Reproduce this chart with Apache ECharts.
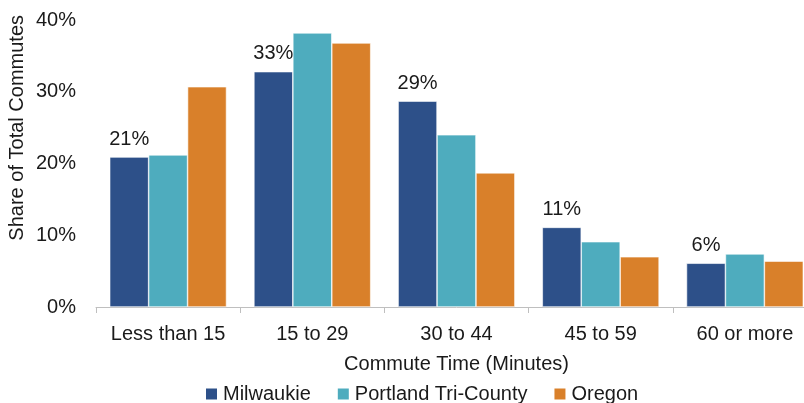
<!DOCTYPE html>
<html>
<head>
<meta charset="utf-8">
<script src="https://cdn.jsdelivr.net/npm/echarts@6/dist/echarts.min.js"></script>
<style>
  html, body { margin: 0; padding: 0; background: #fff; overflow: hidden; }
  /* the plot runs a little past the right edge of the window, like the original */
  #chart { width: 817px; height: 403px; }
</style>
</head>
<body>
<div id="chart"></div>
<script>
// commute time buckets
const categories = ["Less than 15", "15 to 29", "30 to 44", "45 to 59", "60 or more"];
// share of total commutes, percent
const milwaukie = [20.9, 32.8, 28.7, 11.1, 6.1];
const portlandTriCounty = [21.2, 38.2, 24.0, 9.1, 7.4];
const oregon = [30.7, 36.8, 18.7, 7.0, 6.4];
const yTicks = [0, 10, 20, 30, 40];

const font = "Liberation Sans";
const myChart = echarts.init(document.getElementById("chart"));

const option = {
  animation: false,
  textStyle: { fontFamily: font },
  color: ["#2d5089", "#4eacbe", "#d9802a"],
  grid: { left: 96, top: 20, bottom: 96, right: 0 },
  legend: {
    left: 199,
    top: 379,
    itemWidth: 13,
    itemHeight: 13,
    itemGap: 25,
    icon: "rect",
    textStyle: { fontSize: 20, color: "#1a1a1a", fontFamily: font },
    data: ["Milwaukie", "Portland Tri-County", "Oregon"]
  },
  graphic: [{
    type: "text",
    left: 7,
    top: 15,
    rotation: Math.PI / 2,
    style: {
      text: "Share of Total Commutes",
      fontSize: 20,
      fontFamily: font,
      fill: "#1a1a1a"
    }
  }],
  xAxis: {
    type: "category",
    data: categories,
    name: "Commute Time (Minutes)",
    nameLocation: "middle",
    nameGap: 47,
    nameMoveOverlap: false,
    nameTextStyle: { fontSize: 20, color: "#1a1a1a", fontFamily: font },
    axisLine: { lineStyle: { color: "#bfbfbf", width: 1 } },
    axisTick: { show: true, interval: 0, length: 6, lineStyle: { color: "#bfbfbf" } },
    axisLabel: { interval: 0, hideOverlap: false, fontSize: 20, color: "#1a1a1a", margin: 17, fontFamily: font }
  },
  yAxis: {
    type: "value",
    min: yTicks[0],
    max: yTicks[yTicks.length - 1],
    interval: 10,
    axisLine: { show: false },
    axisTick: { show: false },
    splitLine: { show: false },
    axisLabel: { fontSize: 20, color: "#1a1a1a", margin: 20, fontFamily: font, formatter: "{value}%" }
  },
  series: [
    {
      name: "Milwaukie",
      type: "bar",
      data: milwaukie,
      barGap: "0%",
      barCategoryGap: "19%",
      itemStyle: { borderColor: "#ffffff", borderWidth: 0.6 },
      label: {
        show: true,
        position: "top",
        distance: 8,
        fontSize: 20,
        color: "#1a1a1a",
        fontFamily: font,
        formatter: p => Math.round(p.value) + "%"
      }
    },
    {
      name: "Portland Tri-County",
      type: "bar",
      data: portlandTriCounty,
      itemStyle: { borderColor: "#ffffff", borderWidth: 0.6 }
    },
    {
      name: "Oregon",
      type: "bar",
      data: oregon,
      itemStyle: { borderColor: "#ffffff", borderWidth: 0.6 }
    }
  ]
};

myChart.setOption(option);
</script>
</body>
</html>
